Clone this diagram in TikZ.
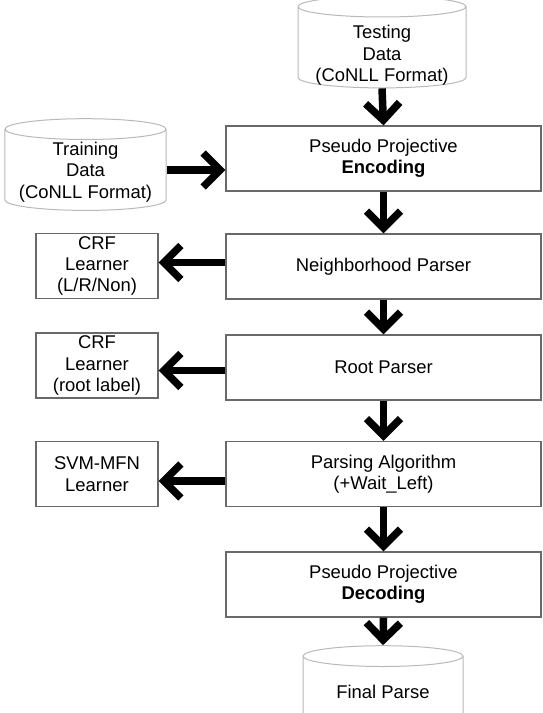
\documentclass[tikz,border=0pt]{standalone}
\usepackage{fontspec}
\setmainfont{Liberation Sans}
\usetikzlibrary{arrows.meta,shapes.geometric}
\definecolor{rim}{RGB}{105,105,105}
\definecolor{drum}{RGB}{185,185,185}
\newcommand{\drumfill}{\phantom{\rule{130bp}{60bp}}}
\tikzset{
  stage/.style={draw=rim,line width=1.2bp,minimum width=315bp,minimum height=65bp,
    inner sep=0pt,align=center,font=\fontsize{18.5}{21.5}\selectfont},
  learner/.style={stage,minimum width=122bp},
  store/.style={cylinder,shape border rotate=90,aspect=0.16,draw=drum,line width=1bp,
    inner sep=0pt},
  storetext/.style={inner sep=0pt,align=center,font=\fontsize{18.5}{21.5}\selectfont},
  push/.style={line width=7.5bp,-{Straight Barb[length=17bp,width=34bp]}},
}
\begin{document}
\begin{tikzpicture}[x=1bp,y=-1bp]
  \useasboundingbox (0,0) rectangle (543,713);
  % data stores
  \node[store,minimum width=168bp,minimum height=85bp] (test) at (382,47.5) {\drumfill};
  \node[storetext,yshift=-8bp] (testtxt) at (test.center) {Testing\\Data\\(CoNLL Format)};
  \node[store,minimum width=161bp,minimum height=90bp] (train) at (85.5,170) {\drumfill};
  \node[storetext,yshift=-2bp] (traintxt) at (train.center) {Training\\Data\\(CoNLL Format)};
  \node[store,minimum width=160bp,minimum height=90bp] (final) at (383,697) {\drumfill};
  \node[storetext,yshift=5bp] (finaltxt) at (final.center) {Final Parse};
  % pipeline
  \node[stage] (enc) at (383.5,158.5) {Pseudo Projective\\\textbf{Encoding}};
  \node[stage] (nbr) at (383.5,266.5) {Neighborhood Parser};
  \node[stage] (root) at (383.5,367.5) {Root Parser};
  \node[stage] (algo) at (383.5,474) {Parsing Algorithm\\(+Wait\_Left)};
  \node[stage] (dec) at (383.5,584.5) {Pseudo Projective\\\textbf{Decoding}};
  % learners
  \node[learner] (crfnbr) at (97,266) {CRF\\Learner\\(L/R/Non)};
  \node[learner] (crfroot) at (97,365.5) {CRF\\Learner\\(root label)};
  \node[learner] (svm) at (97,474) {SVM-MFN\\Learner};
  % arrows
  \draw[push] (test.south) -- (enc.north);
  \draw[push] (train.east) -- (train.east -| enc.west);
  \draw[push] (enc) -- (nbr);
  \draw[push] (nbr) -- (root);
  \draw[push] (root) -- (algo);
  \draw[push] (algo) -- (dec);
  \draw[push] (dec.south) -- (final.north);
  \draw[push] ([yshift=4bp]nbr.west) -- ([yshift=4bp]nbr.west -| crfnbr.east);
  \draw[push] ([yshift=-3bp]root.west) -- ([yshift=-3bp]root.west -| crfroot.east);
  \draw[push] ([yshift=-7bp]algo.west) -- ([yshift=-7bp]algo.west -| svm.east);
\end{tikzpicture}
\end{document}
